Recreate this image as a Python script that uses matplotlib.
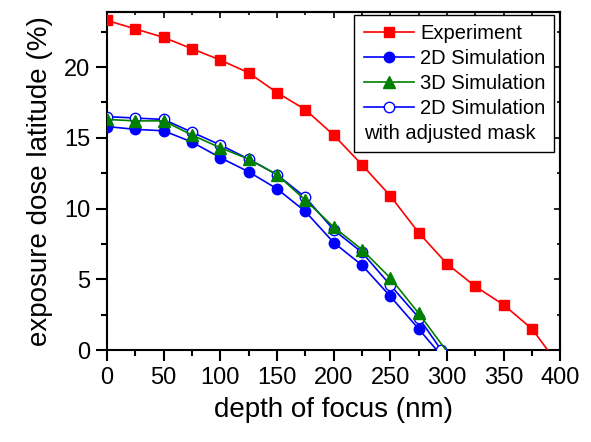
import matplotlib
matplotlib.use("Agg")
from matplotlib import pyplot as plt
from matplotlib.ticker import MultipleLocator

plt.rcParams['font.family'] = ['Liberation Sans', 'DejaVu Sans']

# depth of focus (nm) and exposure dose latitude (%)
x_exp = [0, 25, 50, 75, 100, 125, 150, 175, 200, 225, 250, 275, 300, 325, 350, 375, 400]
y_exp = [23.3, 22.7, 22.1, 21.3, 20.5, 19.6, 18.2, 17.0, 15.2, 13.1, 10.9, 8.3, 6.1, 4.5, 3.2, 1.5, -1.2]

x_2d = [0, 25, 50, 75, 100, 125, 150, 175, 200, 225, 250, 275, 300]
y_2d = [15.8, 15.6, 15.5, 14.7, 13.6, 12.6, 11.4, 9.8, 7.6, 6.0, 3.8, 1.5, -0.85]

x_3d = [0, 25, 50, 75, 100, 125, 150, 175, 200, 225, 250, 275, 300]
y_3d = [16.3, 16.2, 16.2, 15.2, 14.3, 13.5, 12.4, 10.6, 8.7, 7.1, 5.1, 2.6, -0.1]

x_adj = [0, 25, 50, 75, 100, 125, 150, 175, 200, 225, 250, 275, 295]
y_adj = [16.5, 16.4, 16.3, 15.4, 14.5, 13.5, 12.4, 10.8, 8.5, 6.9, 4.6, 2.3, 0.0]


def main():
    fig = plt.figure(figsize=(5.91, 4.42), dpi=100)
    ax = fig.add_axes([0.181, 0.208, 0.767, 0.765])

    lw = 1.2
    ax.plot(x_exp, y_exp, color="red", marker="s", ms=7, lw=lw,
            markevery=slice(0, -1), label="Experiment", zorder=3)
    ax.plot(x_2d, y_2d, color="blue", marker="o", ms=7.5, lw=lw,
            markevery=slice(0, -1), label="2D Simulation", zorder=3)
    ax.plot(x_3d, y_3d, color="green", marker="^", ms=8, lw=lw,
            markevery=slice(0, -1), label="3D Simulation", zorder=5)
    ax.plot(x_adj, y_adj, color="blue", marker="o", ms=7.5, lw=lw,
            mfc="white", mec="blue", label="2D Simulation", zorder=4)
    # extra legend line without handle
    ax.plot([], [], color="none", label="with adjusted mask")

    ax.set_xlim(0, 400)
    ax.set_ylim(0, 23.9)
    ax.xaxis.set_major_locator(MultipleLocator(50))
    ax.xaxis.set_minor_locator(MultipleLocator(25))
    ax.yaxis.set_major_locator(MultipleLocator(5))
    ax.yaxis.set_minor_locator(MultipleLocator(2.5))

    ax.tick_params(which="both", direction="out", width=1.5, labelsize=17,
                   top=False, right=False, pad=4)
    ax.tick_params(which="major", length=8)
    ax.tick_params(which="minor", length=4.5)
    for s in ax.spines.values():
        s.set_linewidth(1.5)

    # inward ticks on top and right
    top = ax.secondary_xaxis("top")
    top.xaxis.set_major_locator(MultipleLocator(50))
    top.xaxis.set_minor_locator(MultipleLocator(25))
    top.tick_params(which="both", direction="in", width=1.2, labeltop=False)
    top.tick_params(which="major", length=4)
    top.tick_params(which="minor", length=2.5)
    right = ax.secondary_yaxis("right")
    right.yaxis.set_major_locator(MultipleLocator(5))
    right.yaxis.set_minor_locator(MultipleLocator(2.5))
    right.tick_params(which="both", direction="in", width=1.2, labelright=False)
    right.tick_params(which="major", length=4)
    right.tick_params(which="minor", length=2.5)
    top.spines["top"].set_linewidth(1.5)
    right.spines["right"].set_linewidth(1.5)

    ax.set_xlabel("depth of focus (nm)", fontsize=20, labelpad=6)
    ax.set_ylabel("exposure dose latitude (%)", fontsize=20, labelpad=8)

    leg = ax.legend(loc="upper right", bbox_to_anchor=(0.987, 0.991),
                    fontsize=14.5, fancybox=False,
                    edgecolor="black", framealpha=1, borderaxespad=0,
                    handlelength=2.5, handletextpad=0.3, labelspacing=0.3,
                    borderpad=0.45)
    leg.get_frame().set_linewidth(1.0)
    # drop the handle of the last row so its text starts at the left edge
    col = leg._legend_handle_box.get_children()[0]
    row = col.get_children()[4]
    row._children = [row._children[1]]

    fig.savefig("out.png", dpi=100)


if __name__ == "__main__":
    main()
